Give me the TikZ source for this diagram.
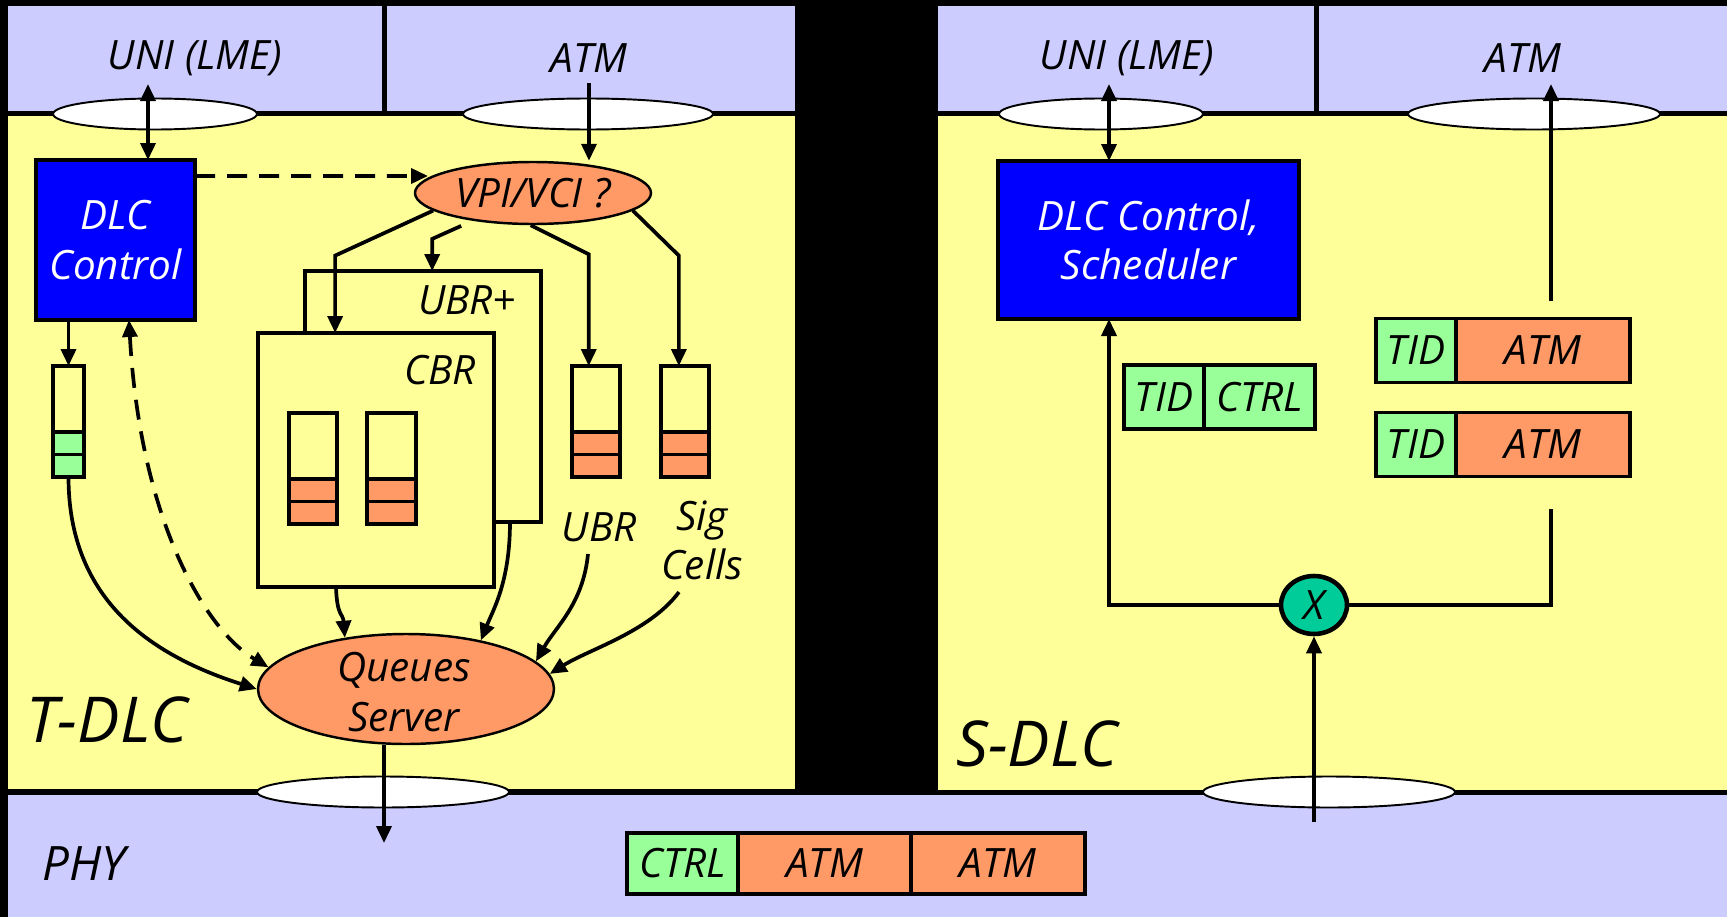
\documentclass[tikz,border=0pt]{standalone}
\usepackage{fontspec}
\setmainfont{Open Sans}
\usepackage{tikz}
\usetikzlibrary{positioning}
\usetikzlibrary{arrows.meta}
\usetikzlibrary{shapes.geometric}

\definecolor{lav}{RGB}{204,204,255}
\definecolor{pale}{RGB}{255,255,153}
\definecolor{salmon}{RGB}{255,153,102}
\definecolor{mint}{RGB}{153,255,153}
\definecolor{jade}{RGB}{0,204,153}

\begin{document}
\begin{tikzpicture}[x=0.1mm, y=-0.1mm,
		font=\fontsize{11.5}{14}\selectfont\itshape,
		wire/.style={line width=1.05pt},
		arr/.style={wire, -{Triangle[length=1.7mm, width=1.5mm]}},
		darr/.style={wire, {Triangle[length=1.7mm, width=1.5mm]}-{Triangle[length=1.7mm, width=1.5mm]}},
		box/.style={draw, line width=1.1pt, inner sep=0pt, outer sep=0pt},
		sap/.style={ellipse, draw, fill=white, line width=0.55pt, minimum height=3.1mm, inner sep=0pt},
		oval/.style={ellipse, draw, fill=salmon, line width=0.7pt, inner sep=0pt},
		queue/.style={box, anchor=north, minimum height=11.1mm},
		cell/.style={box, minimum height=6.4mm},
		ctrl/.style={box, fill=blue, text=white, align=center},
		big/.style={font=\fontsize{18}{20}\selectfont\itshape}
	]
	\useasboundingbox (0,0) rectangle (1727,917);

	% Layers
	\fill[black] (0,0) rectangle (1727,917);
	\fill[lav] (8,6) rectangle (382,111);
	\fill[lav] (387,6) rectangle (795,111);
	\fill[pale] (8,116) rectangle (795,789);
	\fill[lav] (938,6) rectangle (1314,111);
	\fill[lav] (1319,6) rectangle (1727,111);
	\fill[pale] (938,116) rectangle (1727,790);
	\fill[lav] (8,795) rectangle (1727,917);

	% Service access points
	\foreach \n/\x/\y/\w in {sapUL/155/114/20.4, sapAL/588/114/25, sapUR/1101/114/20.4, sapAR/1534/114/25.2, sapPL/383/792/25.2, sapPR/1329/792/25.2} {
			\node[sap, minimum width=\w mm] (\n) at (\x,\y) {};
		}

	\node (uniL) at (195,58) {UNI (LME)};
	\node (atmL) at (589,58) {ATM};
	\node (uniR) at (1127,58) {UNI (LME)};
	\node (atmR) at (1523,58) {ATM};
	\node[font=\fontsize{13.5}{16}\selectfont\itshape] (lphy) at (84,864) {PHY};

	\coordinate (uniLtop) at (148,84);
	\coordinate (atmLtop) at (589,83);
	\coordinate (uniRtop) at (1109,84);
	\coordinate (atmRtop) at (1551,84);
	\coordinate (atmRlow) at (1551,301);
	\coordinate (mixin) at (1551,509);
	\coordinate (phyin) at (1314,822);
	\coordinate (phyout) at (384,843);
	\coordinate (dashend) at (428,176);

	% T-DLC
	\node[ctrl, minimum width=15.9mm, minimum height=16mm] (dlcL) at (115.5,240) {DLC\\Control};
	\node[oval, minimum width=23.6mm, minimum height=6.2mm] (vpi) at (533,193) {VPI/VCI ?};
	\node[box, fill=pale, minimum width=23.6mm, minimum height=25.1mm] (ubrp) at (423,396.5) {};
	\node (lubrp) at (467,300) {UBR+};
	\node[box, fill=pale, minimum width=23.6mm, minimum height=25.4mm] (cbr) at (376,460) {};
	\node (lcbr) at (440,370) {CBR};

	\foreach \n/\x/\w/\y/\c in {ctlq/68.5/3.1/366/mint, ubrq/596/4.8/366/salmon, sigq/685/4.8/366/salmon, cbrq1/313/4.8/413/salmon, cbrq2/391.5/4.9/413/salmon} {
			\node[queue, minimum width=\w mm] (\n) at (\x,\y) {};
			\draw[box, fill=\c] (\n.south west) rectangle ([yshift=4.5mm]\n.south east);
			\draw[box] ([yshift=2.25mm]\n.south west) -- ([yshift=2.25mm]\n.south east);
		}

	\node (lubr) at (599,527) {UBR};
	\node[align=center] (lsig) at (702,540) {Sig\\Cells};
	\node[oval, minimum width=29.6mm, minimum height=11mm] (qs) at (406,689) {};
	\node[align=center] (lqs) at (404,692) {Queues\\Server};
	\node[big] (ltdlc) at (107,720) {T-DLC};

	\draw[darr] (uniLtop) -- (uniLtop |- dlcL.north);
	\draw[arr] (atmLtop) -- (atmLtop |- vpi.north);
	\draw[arr, dash pattern=on 2mm off 1.2mm] ([yshift=-1.6mm]dlcL.north east) -- (dashend);

	% VPI/VCI fan-out
	\draw[arr] (vpi.190) -- ++(-98,45) coordinate (k1) -- (k1 |- cbr.north);
	\draw[arr] ([shift={(-12,5)}]vpi.205) -- ++(-29,13) coordinate (k2) -- (k2 |- ubrp.north);
	\draw[arr] (vpi.266) -- ++(58,29) coordinate (k3) -- (k3 |- ubrq.north);
	\draw[arr] (vpi.350) -- ++(46,45) coordinate (k4) -- (k4 |- sigq.north);

	% into the server
	\draw[arr] (ctlq.north |- dlcL.south) -- (ctlq.north);
	\draw[arr] (ctlq.south) .. controls +(0,120) and +(-110,-35) .. (qs.west);
	\draw[darr, dash pattern=on 2mm off 1.2mm] ([xshift=1.35mm]dlcL.south) .. controls +(11,200) and +(-63,-37) .. (qs.171);
	\draw[arr] ([xshift=-4mm]cbr.south) .. controls +(1,30) and +(-2,-25) .. (qs.140);
	\draw[arr] ([xshift=8.7mm]ubrp.south) .. controls +(0,60) and +(12,-30) .. (qs.33);
	\draw[arr] ([xshift=-1.1mm]lubr.south) .. controls +(-5,50) and +(20,-35) .. (qs.12);
	\draw[arr] ([xshift=-2.3mm]lsig.south) .. controls +(-30,40) and +(40,-25) .. (qs.6);
	\draw[arr] ([xshift=-2.2mm]qs.south) -- (phyout);

	% PHY frame
	\node[cell, fill=mint, minimum width=11.1mm, minimum height=6.1mm] (pc1) at (682.5,863.5) {CTRL};
	\node[cell, fill=salmon, minimum width=17.3mm, minimum height=6.1mm, right=0pt of pc1] (pc2) {ATM};
	\node[cell, fill=salmon, minimum width=17.4mm, minimum height=6.1mm, right=0pt of pc2] (pc3) {ATM};

	% S-DLC
	\node[ctrl, minimum width=30.1mm, minimum height=15.8mm] (dlcR) at (1148.5,240) {DLC Control,\\Scheduler};
	\node[cell, fill=mint, minimum width=8mm] (tc1) at (1164,397) {TID};
	\node[cell, fill=mint, minimum width=11.1mm, right=0pt of tc1] (tc2) {CTRL};
	\node[cell, fill=mint, minimum width=8mm] (ta1) at (1416,350.5) {TID};
	\node[cell, fill=salmon, minimum width=17.4mm, right=0pt of ta1] (ta2) {ATM};
	\node[cell, fill=mint, minimum width=8mm] (tb1) at (1416,444.5) {TID};
	\node[cell, fill=salmon, minimum width=17.4mm, right=0pt of tb1] (tb2) {ATM};
	\node[ellipse, draw, fill=jade, line width=1.3pt, minimum width=6.6mm, minimum height=5.8mm, inner sep=0pt] (mix) at (1314,605) {X};
	\node[big] (lsdlc) at (1037,744) {S-DLC};

	\draw[darr] (uniRtop) -- (uniRtop |- dlcR.north);
	\draw[arr] (atmRlow) -- (atmRtop);
	\draw[wire] (mixin) |- (mix.east);
	\draw[arr] (mix.west) -| (uniRtop |- dlcR.south);
	\draw[arr] (phyin) -- (mix.south);
\end{tikzpicture}
\end{document}
